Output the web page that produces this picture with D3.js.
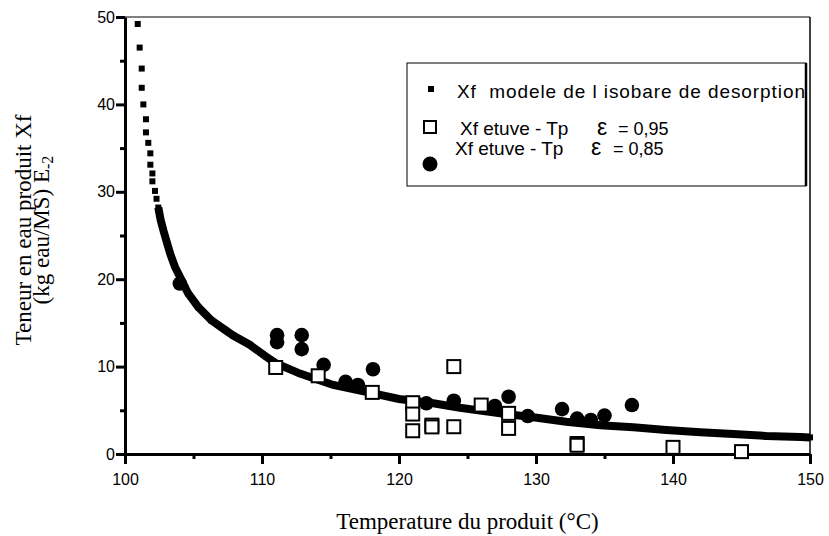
<!DOCTYPE html>
<html>
<head>
<meta charset="utf-8">
<script src="https://cdn.jsdelivr.net/npm/d3@7"></script>
<style>
  body { margin: 0; background: #fff; }
  svg { display: block; }
</style>
</head>
<body>
<div id="grafica"></div>
<script>
  // modele de l'isobare
  const modelT = [100.93, 101.07, 101.22, 101.22, 101.34, 101.53, 101.53, 101.7, 101.85, 101.85, 102.0, 102.0, 102.19, 102.3,
    102.43, 102.6, 102.8, 103.04, 103.3, 103.65, 104.0, 104.6, 105.35, 106.3, 107.3, 107.9, 109.1, 110.34, 111.0,
    112.77, 115.2, 117.6, 120.0, 122.5, 124.45, 127.4, 129.8, 132.2, 134.7, 137.1, 139.5, 142.0, 144.4, 146.8, 149.3, 150];
  const modelXf = [49.2, 46.5, 44.1, 41.9, 40.0, 38.3, 36.8, 35.6, 34.4, 33.1, 32.1, 31.2, 30.1, 29.2,
    28.2, 26.8, 25.6, 24.3, 22.9, 21.4, 20.3, 18.4, 16.8, 15.3, 14.2, 13.55, 12.5, 11.1, 10.4,
    9.2, 7.9, 7.1, 6.3, 5.8, 5.3, 4.65, 4.2, 3.7, 3.3, 3.05, 2.74, 2.5, 2.29, 2.06, 1.95, 1.9];

  // Xf etuve - Tp, eps = 0,95 (carres)
  const t95 = [111.0, 114.1, 118.05, 121.0, 121.0, 121.0, 122.4, 122.4, 124.0, 124.0, 126.0, 128.0, 128.0, 133.0, 133.0, 140.0, 145.0];
  const x95 = [9.9, 8.95, 7.05, 5.87, 4.57, 2.66, 3.3, 3.1, 3.12, 10.0, 5.6, 4.65, 2.93, 1.2, 1.0, 0.76, 0.27];

  // Xf etuve - Tp, eps = 0,85 (ronds)
  const t85 = [104.0, 111.1, 111.1, 112.9, 112.9, 114.5, 116.1, 117.0, 118.1, 122.0, 124.0, 127.0, 128.0, 129.4, 131.9, 133.0, 134.0, 135.0, 137.0];
  const x85 = [19.5, 13.6, 12.8, 13.6, 12.0, 10.2, 8.26, 7.9, 9.7, 5.8, 6.1, 5.5, 6.55, 4.34, 5.14, 4.05, 3.89, 4.4, 5.6];

  const xTicks = [100, 110, 120, 130, 140, 150];
  const xMinor = [105, 115, 125, 135, 145];
  const yTicks = [0, 10, 20, 30, 40, 50];
  const yMinor = [5, 15, 25, 35, 45];

  const width = 829, height = 536;
  const mg = { left: 125, right: 810, top: 17, bottom: 454 };

  const svg = d3.select("#grafica")
    .append("svg")
    .attr("width", width)
    .attr("height", height);

  const x = d3.scaleLinear().domain([100, 150]).range([mg.left, mg.right]);
  const y = d3.scaleLinear().domain([0, 50]).range([mg.bottom, mg.top]);

  const sans = "'Liberation Sans', Arial, Helvetica, sans-serif";
  const serif = "'Liberation Serif', 'Times New Roman', serif";

  // cadre haut et droite
  svg.append("line")
    .attr("x1", mg.left).attr("x2", mg.right)
    .attr("y1", mg.top).attr("y2", mg.top)
    .attr("stroke", "#000").attr("stroke-width", 1);
  svg.append("line")
    .attr("x1", mg.right).attr("x2", mg.right)
    .attr("y1", mg.top).attr("y2", mg.bottom)
    .attr("stroke", "#000").attr("stroke-width", 1.5);

  // Axe X
  svg.append("g")
    .attr("transform", `translate(0,${mg.bottom})`)
    .call(d3.axisBottom(x).tickValues(xTicks).tickSize(10).tickSizeOuter(0).tickPadding(10));
  svg.append("g")
    .attr("transform", `translate(0,${mg.bottom})`)
    .call(d3.axisBottom(x).tickValues(xMinor).tickSize(5).tickFormat(""))
    .select(".domain").remove();

  // Axe Y
  svg.append("g")
    .attr("transform", `translate(${mg.left},0)`)
    .call(d3.axisLeft(y).tickValues(yTicks).tickSize(9).tickSizeOuter(0).tickPadding(1));
  svg.append("g")
    .attr("transform", `translate(${mg.left},0)`)
    .call(d3.axisLeft(y).tickValues(yMinor).tickSize(5).tickFormat(""))
    .select(".domain").remove();

  svg.selectAll(".domain").attr("stroke-width", 3).attr("stroke", "#000");
  svg.selectAll(".tick line").attr("stroke-width", 3).attr("stroke", "#000");
  svg.selectAll(".tick text")
    .attr("font-family", sans)
    .attr("font-size", 16)
    .attr("fill", "#000");

  // titres des axes
  svg.append("text")
    .attr("x", (mg.left + mg.right) / 2)
    .attr("y", 529)
    .attr("text-anchor", "middle")
    .attr("font-family", serif)
    .attr("font-size", 23)
    .text("Temperature du produit (°C)");

  const ytitle = svg.append("g")
    .attr("transform", "translate(0,230) rotate(-90)")
    .attr("font-family", serif)
    .attr("font-size", 23)
    .attr("text-anchor", "middle");
  ytitle.append("text")
    .attr("x", 0).attr("y", 31)
    .text("Teneur en eau produit Xf");
  const l2 = ytitle.append("text")
    .attr("x", 0).attr("y", 49);
  l2.append("tspan").text("(kg eau/MS) E");
  l2.append("tspan").attr("font-size", 16).attr("dy", 4).text("-2");

  // modele : ligne epaisse la ou les points se touchent
  const modelPts = modelT.map((t, i) => ({ t: t, v: modelXf[i] }));
  const line = d3.line().x(d => x(d.t)).y(d => y(d.v));
  svg.append("path")
    .datum(modelPts.filter(d => d.t >= 102.4))
    .attr("d", line)
    .attr("fill", "none")
    .attr("stroke", "#000")
    .attr("stroke-width", 8);
  svg.append("g")
    .selectAll("rect")
    .data(modelPts)
    .enter()
    .append("rect")
    .attr("x", d => x(d.t) - 3)
    .attr("y", d => y(d.v) - 3)
    .attr("width", 6)
    .attr("height", 6)
    .attr("fill", "#000");

  // ronds
  svg.append("g")
    .selectAll("circle")
    .data(t85.map((t, i) => ({ t: t, v: x85[i] })))
    .enter()
    .append("circle")
    .attr("cx", d => x(d.t))
    .attr("cy", d => y(d.v))
    .attr("r", 7.3)
    .attr("fill", "#000");

  // carres
  svg.append("g")
    .selectAll("rect")
    .data(t95.map((t, i) => ({ t: t, v: x95[i] })))
    .enter()
    .append("rect")
    .attr("x", d => x(d.t) - 6.5)
    .attr("y", d => y(d.v) - 6.5)
    .attr("width", 13)
    .attr("height", 13)
    .attr("fill", "#fff")
    .attr("stroke", "#000")
    .attr("stroke-width", 2);

  // Legende
  const leg = svg.append("g").attr("font-family", sans).attr("font-size", 19);
  leg.append("rect")
    .attr("x", 407).attr("y", 63)
    .attr("width", 399).attr("height", 123)
    .attr("fill", "#fff")
    .attr("stroke", "#000")
    .attr("stroke-width", 1);
  leg.append("line")
    .attr("x1", 806).attr("x2", 806)
    .attr("y1", 63).attr("y2", 186)
    .attr("stroke", "#000").attr("stroke-width", 2.5);

  leg.append("rect")
    .attr("x", 428).attr("y", 86).attr("width", 6).attr("height", 6)
    .attr("fill", "#000");
  leg.append("text").attr("x", 457).attr("y", 98)
    .attr("xml:space", "preserve")
    .attr("textLength", 348)
    .attr("lengthAdjust", "spacing")
    .text("Xf  modele de l isobare de desorption");

  leg.append("rect")
    .attr("x", 424).attr("y", 121).attr("width", 12).attr("height", 12)
    .attr("fill", "#fff").attr("stroke", "#000").attr("stroke-width", 2);
  const t2 = leg.append("text").attr("x", 460).attr("y", 135);
  t2.append("tspan").text("Xf etuve - Tp");
  t2.append("tspan").attr("x", 597).attr("font-size", 23).text("ε");
  t2.append("tspan").attr("x", 618).attr("font-size", 18).text("= 0,95");

  leg.append("circle")
    .attr("cx", 430).attr("cy", 164).attr("r", 7.5)
    .attr("fill", "#000");
  const t3 = leg.append("text").attr("x", 455).attr("y", 155);
  t3.append("tspan").text("Xf etuve - Tp");
  t3.append("tspan").attr("x", 591).attr("font-size", 23).text("ε");
  t3.append("tspan").attr("x", 613).attr("font-size", 18).text("= 0,85");
</script>
</body>
</html>
